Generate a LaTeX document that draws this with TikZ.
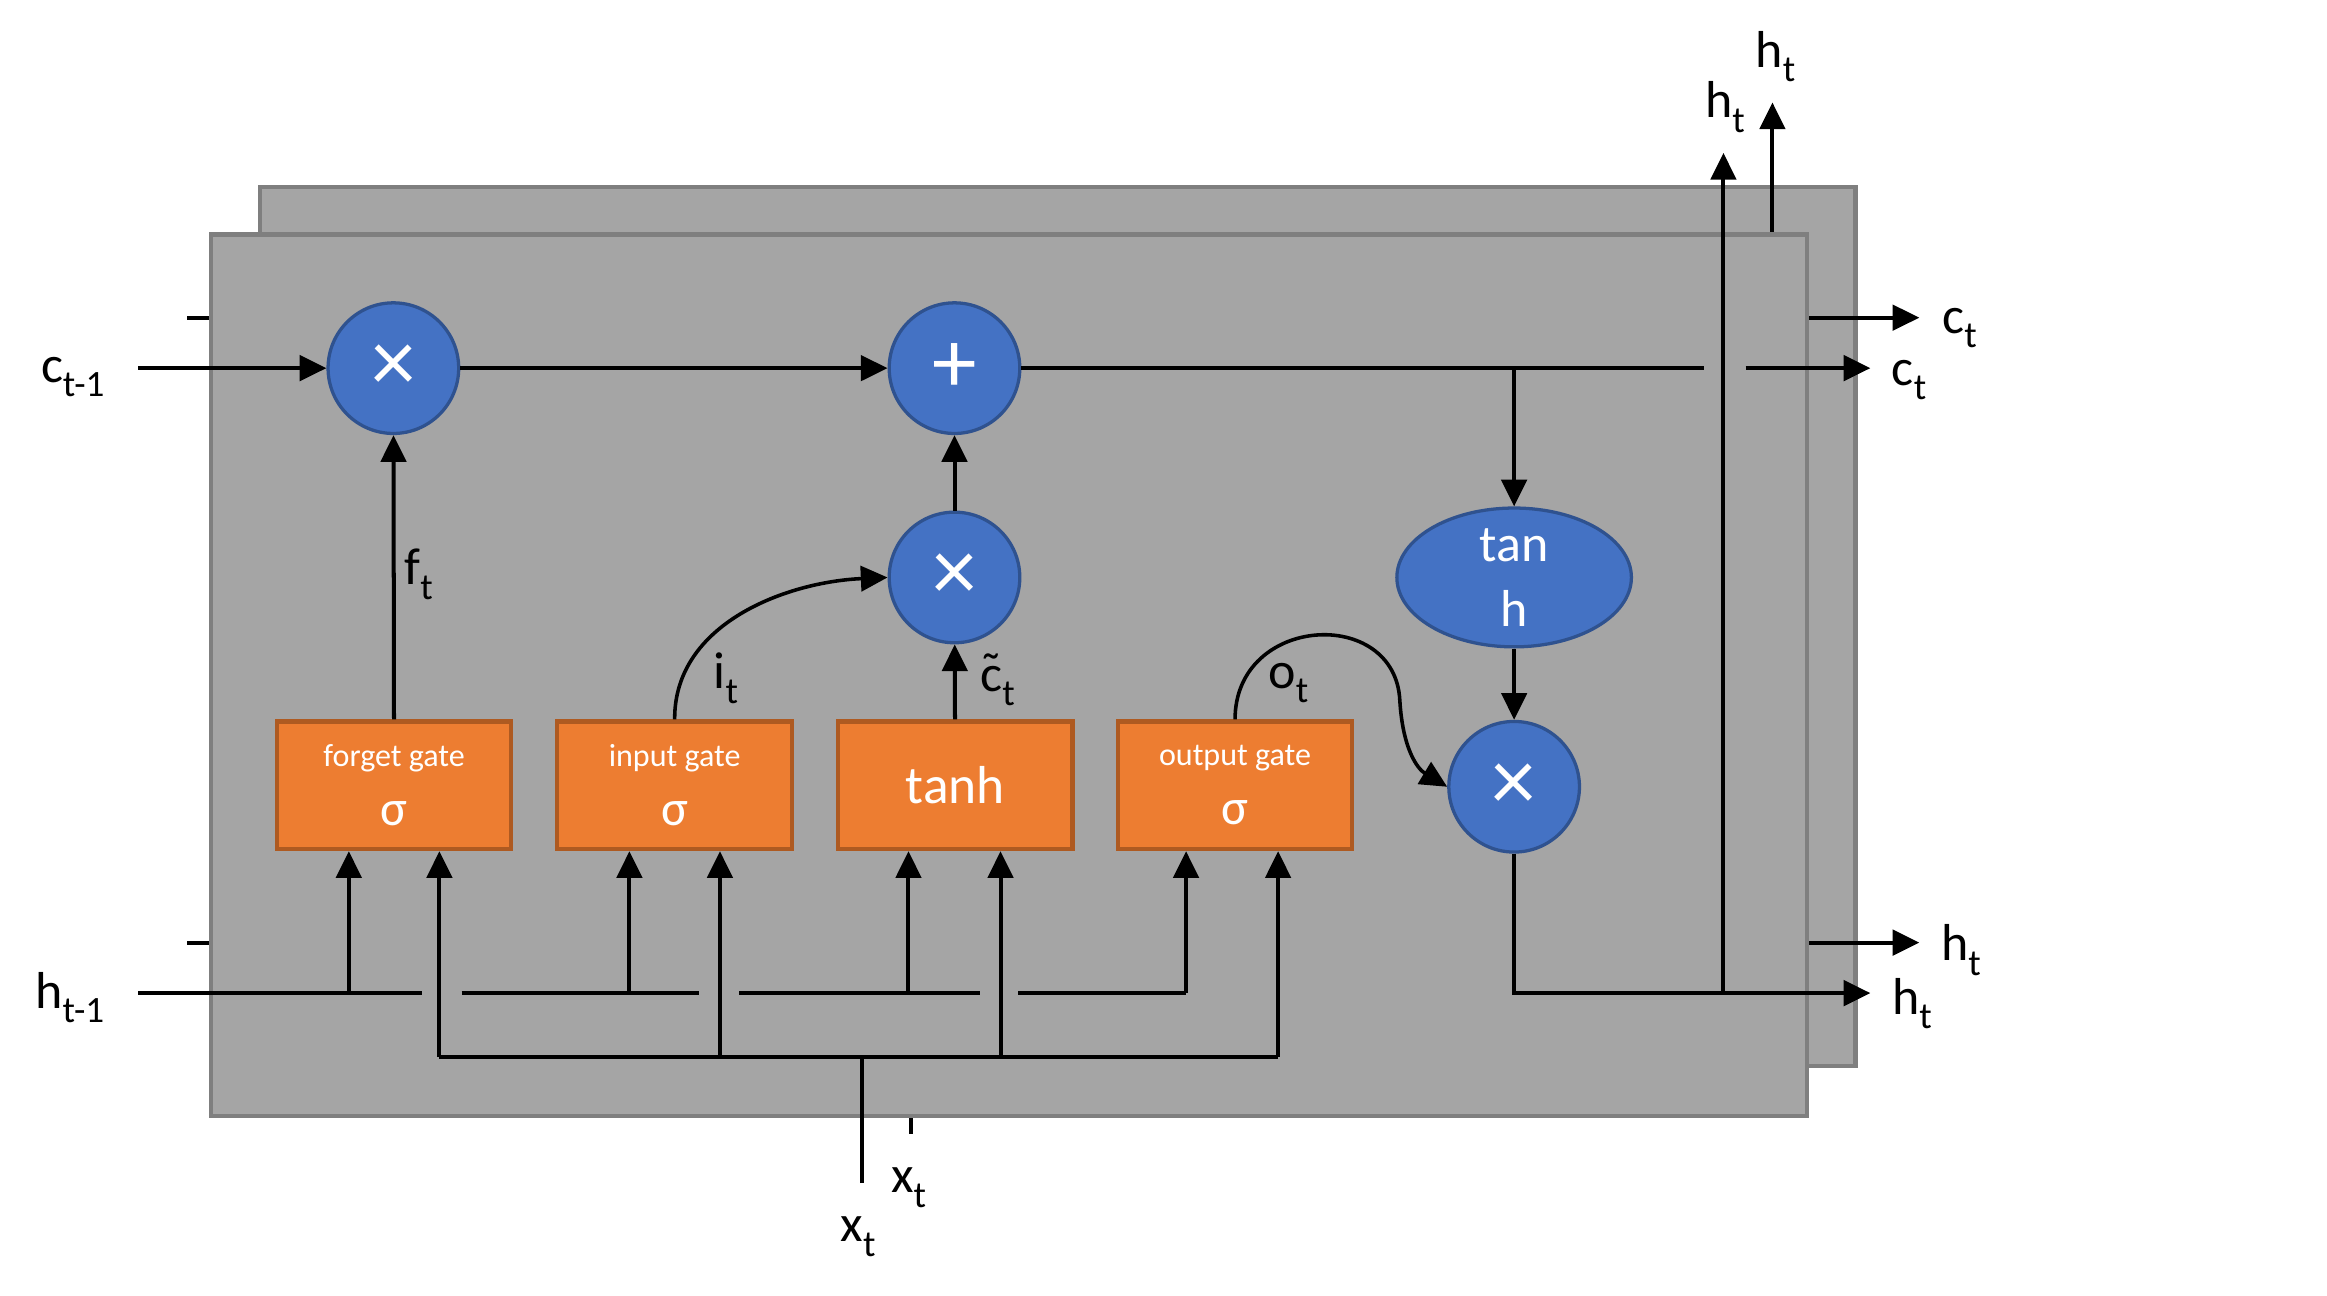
\documentclass[tikz,border=0pt]{standalone}
\usepackage{fontspec}
\setmainfont{Carlito}
\usetikzlibrary{arrows.meta,shapes.geometric}
\definecolor{cellfill}{HTML}{A5A5A5}
\definecolor{celldraw}{HTML}{7F7F7F}
\definecolor{opfill}{HTML}{4472C4}
\definecolor{opdraw}{HTML}{2F528F}
\definecolor{gatefill}{HTML}{ED7D31}
\definecolor{gatedraw}{HTML}{AE5A21}
\newcommand\lbl[2]{#1\raisebox{-0.28em}{\fontsize{12.5}{12.5}\selectfont #2}}
\newcommand\ctil{\ooalign{c\cr\hidewidth\raisebox{0.05em}{\char"02DC}\hidewidth\cr}}
\begin{document}
\begin{tikzpicture}[x=0.5pt,y=-0.5pt,
  cell/.style={fill=cellfill,draw=celldraw,line width=1.4pt},
  op/.style={circle,fill=opfill,draw=opdraw,line width=1.1pt,minimum size=44pt,inner sep=0pt,text=white,font=\fontsize{30}{30}\selectfont},
  opell/.style={ellipse,fill=opfill,draw=opdraw,line width=1.1pt,minimum width=79pt,minimum height=44pt,inner sep=0pt,text=white,align=center,font=\fontsize{17.5}{22}\selectfont},
  gatebox/.style={rectangle,fill=gatefill,draw=gatedraw,line width=1.4pt,minimum width=79pt,minimum height=43pt,inner sep=0pt,text=white,align=center},
  conn/.style={line width=1.35pt},
  arr/.style={conn,-{Triangle[length=9pt,width=8.5pt]}},
  curv/.style={line width=1.2pt,-{Triangle[length=9pt,width=8.5pt]}},
  lab/.style={font=\fontsize{17.5}{18}\selectfont,inner sep=0pt},
]
\useasboundingbox (0,0) rectangle (1567.6,872.4);
\fill[white] (0,0) rectangle (1567.6,872.4);

% rear cell
\draw[cell] (175,126) rectangle (1250,718);
\coordinate (rcin) at (126,214);
\coordinate (rcinE) at (142,214);
\coordinate (rhin) at (126,635);
\coordinate (rhinE) at (142,635);
\coordinate (rcoutS) at (1217,214);
\coordinate (rcout) at (1293,214);
\coordinate (rhoutS) at (1217,635);
\coordinate (rhout) at (1293,635);
\coordinate (rhupS) at (1194,158);
\coordinate (rhup) at (1194,69);
\coordinate (rxS) at (614,752);
\coordinate (rxE) at (614,764);
\draw[conn] (rcin) -- (rcinE);
\draw[conn] (rhin) -- (rhinE);
\draw[arr] (rcoutS) -- (rcout);
\draw[arr] (rhoutS) -- (rhout);
\draw[arr] (rhupS) -- (rhup);
\draw[conn] (rxS) -- (rxE);
\node[lab] (rlc) at (1320,221) {\lbl{c}{t}};
\node[lab] (rlh) at (1321,640) {\lbl{h}{t}};
\node[lab] (rlhu) at (1196,38) {\lbl{h}{t}};
\node[lab] (rlx) at (612,800) {\lbl{x}{t}};

% front cell
\draw[cell] (142,158) rectangle (1217,752);

\node[op] (m1) at (265,248) {×};
\node[op] (pl) at (643,248) {+};
\node[op] (m2) at (643,389) {×};
\node[opell] (th) at (1020,389) {tan\\h};
\node[op] (m3) at (1020,530) {×};

\node[gatebox] (fg) at (265.5,529) {{\fontsize{10.8}{12}\selectfont forget gate}\\[8pt]{\fontsize{17}{17}\selectfont σ}};
\node[gatebox] (ig) at (454.5,529) {{\fontsize{10.8}{12}\selectfont input gate}\\[8pt]{\fontsize{17}{17}\selectfont σ}};
\node[gatebox] (tg) at (643.5,529) {{\fontsize{18}{18}\selectfont tanh}};
\node[gatebox] (og) at (832,529) {{\fontsize{10.8}{12}\selectfont output gate}\\[8pt]{\fontsize{17}{17}\selectfont σ}};

% cell state line
\coordinate (cin) at (93,248);
\coordinate (hopL) at (1148,248);
\coordinate (hopR) at (1176,248);
\coordinate (cout) at (1260,248);
\coordinate (cbr) at (1020,248);
\draw[arr] (cin) -- (m1);
\draw[arr] (m1) -- (pl);
\draw[conn] (pl) -- (hopL);
\draw[arr] (hopR) -- (cout);
\draw[arr] (cbr) -- (th);
\draw[arr] (th) -- (m3);
\draw[arr] (m2) -- (pl);

% output h
\coordinate (hout) at (1260,669);
\coordinate (hbr) at (1161,669);
\coordinate (hup) at (1161,103);
\draw[arr] (m3.south) |- (hout);
\draw[arr] (hbr) -- (hup);

% gate outputs
\draw[arr] (fg) -- (m1);
\draw[arr] (tg) -- (m2);
\draw[curv] (ig.north) .. controls (454,420) and (530,392) .. (m2.west);
\coordinate (obend) at (943,472);
\draw[curv] (og.north) .. controls (832,414) and (940,408) .. (obend) .. controls (945,505) and (955,518) .. (m3.west);

% h_{t-1} input
\coordinate (hin) at (93,669);
\coordinate (hg1) at (284,669);
\coordinate (hg2) at (311,669);
\coordinate (hg3) at (471,669);
\coordinate (hg4) at (498,669);
\coordinate (hg5) at (660,669);
\coordinate (hg6) at (686,669);
\coordinate (hf) at (235,669);
\coordinate (hi) at (424,669);
\coordinate (ht) at (612,669);
\coordinate (ho) at (799,669);
\draw[conn] (hin) -- (hg1);
\draw[conn] (hg2) -- (hg3);
\draw[conn] (hg4) -- (hg5);
\draw[conn] (hg6) -- (ho);
\draw[arr] (hf) -- (hf |- fg.south);
\draw[arr] (hi) -- (hi |- ig.south);
\draw[arr] (ht) -- (ht |- tg.south);
\draw[arr] (ho) -- (ho |- og.south);

% x_t input
\coordinate (xin) at (581,797);
\coordinate (xj) at (581,712);
\coordinate (xf) at (296,712);
\coordinate (xi) at (485,712);
\coordinate (xt) at (674,712);
\coordinate (xo) at (861,712);
\draw[conn] (xin) -- (xj);
\draw[conn] (xf) -- (xo);
\draw[arr] (xf) -- (xf |- fg.south);
\draw[arr] (xi) -- (xi |- ig.south);
\draw[arr] (xt) -- (xt |- tg.south);
\draw[arr] (xo) -- (xo |- og.south);

% labels
\node[lab] (lcin) at (49,254) {\lbl{c}{t-1}};
\node[lab] (lhin) at (47,672) {\lbl{h}{t-1}};
\node[lab] (lcout) at (1286,256) {\lbl{c}{t}};
\node[lab] (lhout) at (1288,676) {\lbl{h}{t}};
\node[lab] (lhup) at (1162,72) {\lbl{h}{t}};
\node[lab] (lx) at (578,833) {\lbl{x}{t}};
\node[lab] (lf) at (282,387) {\lbl{f}{t}};
\node[lab] (li) at (489,457) {\lbl{i}{t}};
\node[lab] (lct) at (672,462) {\lbl{\ctil}{t}};
\node[lab] (lo) at (868,460) {\lbl{o}{t}};
\end{tikzpicture}
\end{document}
